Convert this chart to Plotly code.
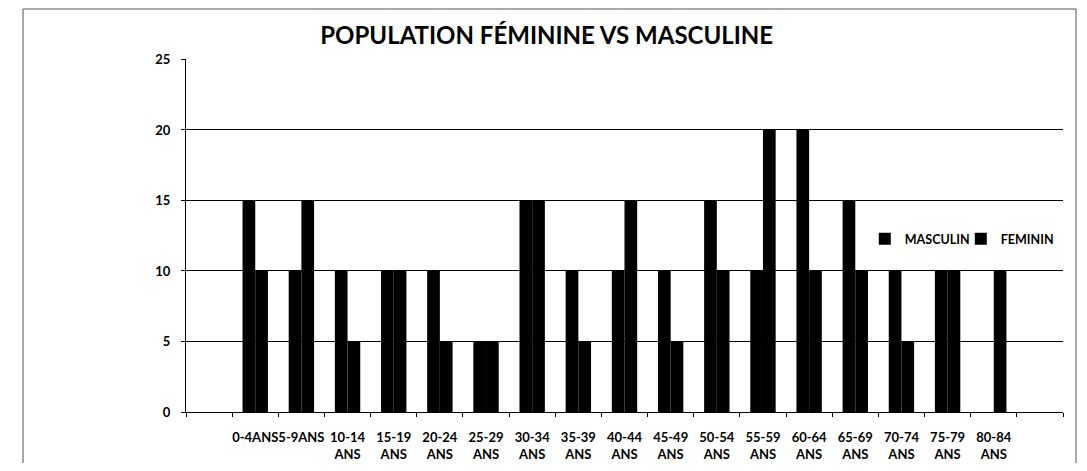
import plotly.graph_objects as go

categories = [" ", "0-4ANS", "5-9ANS", "10-14<br>ANS", "15-19<br>ANS", "20-24<br>ANS", "25-29<br>ANS",
              "30-34<br>ANS", "35-39<br>ANS", "40-44<br>ANS", "45-49<br>ANS", "50-54<br>ANS",
              "55-59<br>ANS", "60-64<br>ANS", "65-69<br>ANS", "70-74<br>ANS", "75-79<br>ANS",
              "80-84<br>ANS", "  "]
masculin = [None, 15, 10, 10, 10, 10, 5, 15, 10, 10, 10, 15, 10, 20, 15, 10, 10, None, None]
feminin = [None, 10, 15, 5, 10, 5, 5, 15, 5, 15, 5, 10, 20, 10, 10, 5, 10, 10, None]
y_ticks = [0, 5, 10, 15, 20, 25]

FONT = "Lato"
W, H = 1071, 455
L, R, T, B = 178, 16, 51, 51
PW, PH = W - L - R, H - T - B

fig = go.Figure()
fig.add_trace(go.Bar(x=categories, y=masculin, name="MASCULIN",
                     marker=dict(color="black", line=dict(width=0))))
fig.add_trace(go.Bar(x=categories, y=feminin, name="FEMININ",
                     marker=dict(color="black", line=dict(width=0))))

fig.update_layout(
    width=W, height=H,
    margin=dict(l=L, r=R, t=T, b=B, autoexpand=False),
    paper_bgcolor="white", plot_bgcolor="white",
    barmode="group", bargap=0.45, bargroupgap=0,
    font=dict(family=FONT, size=13, color="black"),
    title=dict(text="<b>POPULATION FÉMININE VS MASCULINE</b>",
               x=0.503, xref="container", xanchor="center",
               y=1 - 28 / H, yref="container", yanchor="middle",
               font=dict(family=FONT, size=24, color="black")),
    legend=dict(orientation="h", x=0.774, y=0.49, xanchor="left", yanchor="middle",
                font=dict(family=FONT, size=12.5, color="black", weight="bold"),
                bgcolor="rgba(0,0,0,0)", itemwidth=30, entrywidth=51),
    showlegend=True,
)
fig.update_xaxes(
    type="category", tickson="boundaries", ticks="outside", ticklen=4,
    tickcolor="black", showline=True, linecolor="black", linewidth=1,
    showgrid=False, tickangle=0, ticklabelstandoff=13, automargin=False,
    tickfont=dict(family=FONT, size=13, color="black", weight="bold"),
)
fig.update_yaxes(
    range=[0, 25.03], tickvals=y_ticks, ticks="outside", ticklen=4, tickcolor="black",
    showline=True, linecolor="black", linewidth=1, ticklabelstandoff=8, automargin=False,
    showgrid=True, gridcolor="black", gridwidth=1, zeroline=False,
    tickfont=dict(family=FONT, size=13, color="black", weight="bold"),
)
fig.add_shape(type="rect", xref="paper", yref="paper",
              x0=(15 - L) / PW, x1=(1068 - L) / PW,
              y0=-70 / PH, y1=(PH + T - 1) / PH,
              line=dict(color="#555", width=1), fillcolor="rgba(0,0,0,0)", layer="below")

fig.write_html("out.html")
